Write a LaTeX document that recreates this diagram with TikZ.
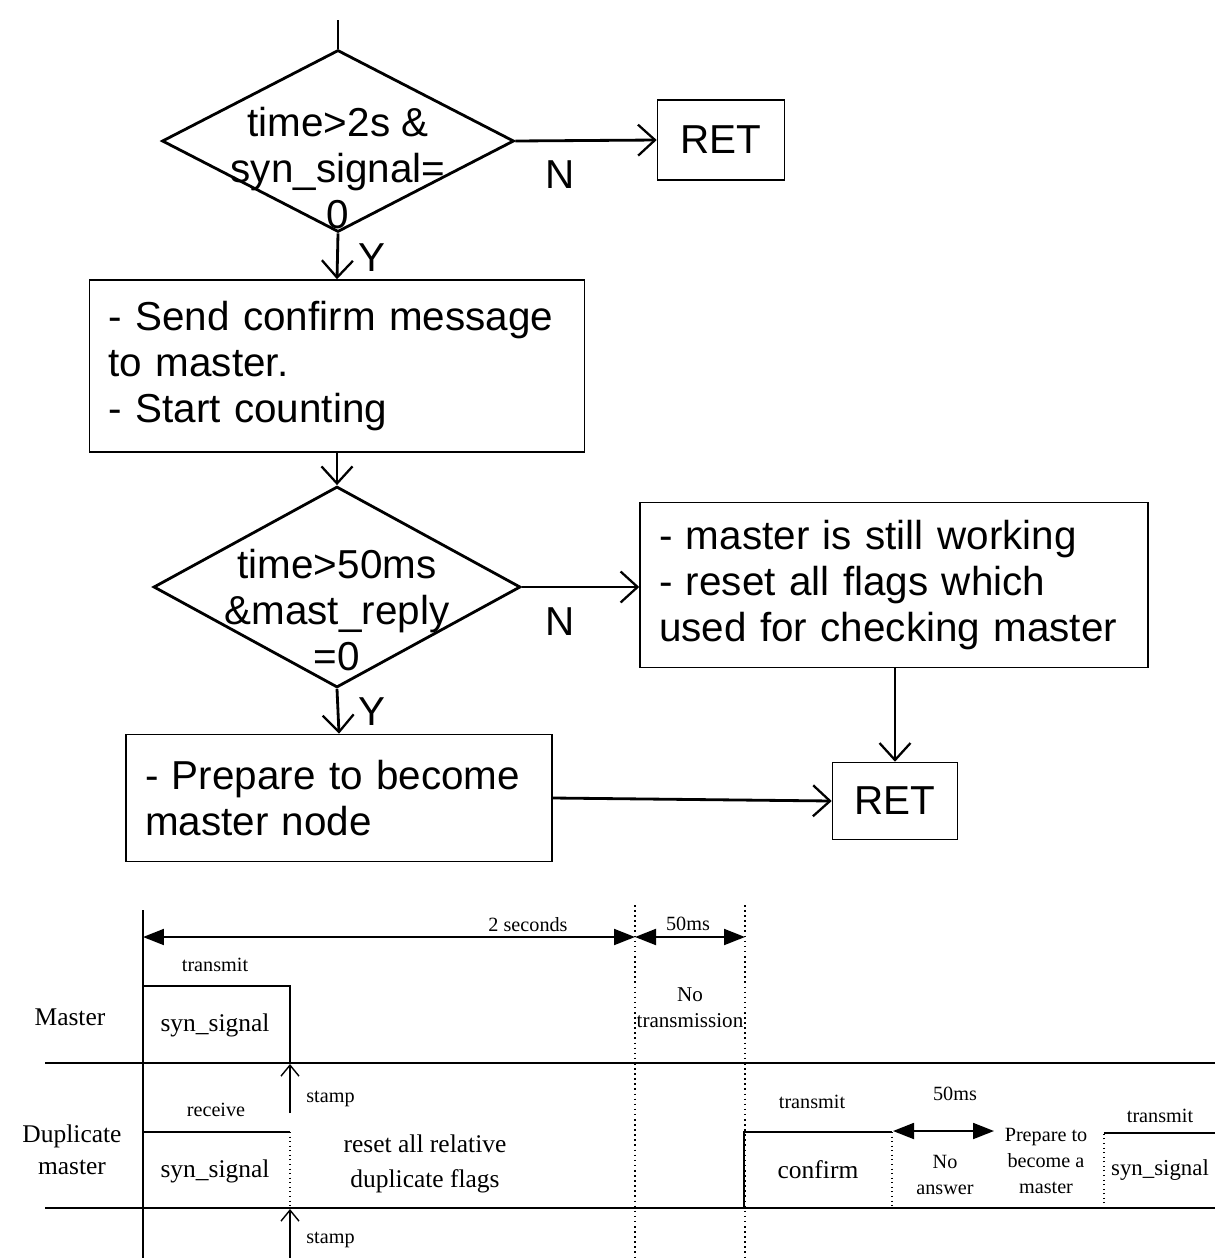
\documentclass[tikz,border=0pt]{standalone}
\usepackage{fontspec}
\setmainfont{Liberation Serif}
\newfontfamily\flowfont{Liberation Sans}
\usetikzlibrary{positioning, arrows.meta, shapes.geometric, calc}

\begin{document}
\begin{tikzpicture}[
    x=0.02cm, y=-0.02cm,
    box/.style={draw, line width=0.9pt, inner ysep=0pt, inner xsep=0.38cm, align=left, font=\flowfont\fontsize{23}{26}\selectfont},
    retbox/.style={draw, line width=0.9pt, inner sep=0pt, font=\flowfont\fontsize{23}{26}\selectfont},
    decision/.style={draw, diamond, line width=1.6pt, inner sep=0pt},
    dectext/.style={font=\flowfont\fontsize{23}{26}\selectfont, align=center, inner sep=0pt},
    yn/.style={font=\flowfont\fontsize{23}{26}\selectfont, inner sep=0pt},
    flow/.style={-{Straight Barb[length=0.34cm, width=0.62cm, line width=1.3pt]}, line width=1.6pt},
    lane/.style={line width=1.2pt},
    slot/.style={line width=0.6pt},
    gap/.style={line width=0.9pt, dotted},
    span/.style={{Triangle[length=0.42cm, width=0.32cm]}-{Triangle[length=0.42cm, width=0.32cm]}, line width=1.1pt},
    stampline/.style={-{Straight Barb[length=0.22cm, width=0.36cm]}, line width=0.8pt},
    big/.style={font=\fontsize{14.5}{18}\selectfont, align=center, inner sep=0pt},
    small/.style={font=\fontsize{11.5}{15}\selectfont, align=center, inner sep=0pt},
]
\useasboundingbox (0,0) rectangle (1215,1258);

% flow chart
\coordinate (entry) at (338,20);
\node[decision, minimum width=7.04cm, minimum height=3.64cm] (dec_sync) at (338,141) {};
\node[dectext] (dec_sync_t) at (338,168) {time>2s \&\\syn\_signal=\\0};
\node[retbox, minimum width=2.54cm, minimum height=1.6cm] (ret_a) at (721,140) {RET};
\node[box, minimum width=9.9cm, minimum height=3.44cm, text width=9.14cm] (send_box) at (337,366)
    {- Send confirm message\\to master.\\- Start counting};
\node[decision, minimum width=7.34cm, minimum height=4.02cm] (dec_reply) at (337,587) {};
\node[dectext] (dec_reply_t) at (337,610) {time>50ms\\\&mast\_reply\\=0};
\node[box, minimum width=10.16cm, minimum height=3.3cm, text width=9.4cm] (alive_box) at (894,585)
    {- master is still working\\- reset all flags which\\used for checking master};
\node[box, minimum width=8.52cm, minimum height=2.54cm, text width=7.76cm] (prep_box) at (339,798)
    {- Prepare to become\\master node};
\node[retbox, minimum width=2.5cm, minimum height=1.54cm] (ret_b) at (895,801) {RET};

\draw[line width=1.6pt] (entry) -- (dec_sync.north);
\draw[flow] (dec_sync.east) -- (ret_a.west);
\node[yn] (n_a) at (560,175) {N};
\draw[flow] (dec_sync.south) -- (send_box.north);
\node[yn] (y_a) at (372,258) {Y};
\draw[flow] (send_box.south) -- (dec_reply.north);
\draw[flow] (dec_reply.east) -- (dec_reply.east -| alive_box.west);
\node[yn] (n_b) at (560,622) {N};
\draw[flow] (dec_reply.south) -- (prep_box.north);
\node[yn] (y_b) at (372,712) {Y};
\draw[flow] (alive_box.south -| ret_b.north) -- (ret_b.north);
\draw[flow] (prep_box.east) -- (ret_b.west);

% timing chart
\coordinate (s0) at (143,937);
\coordinate (s1) at (635,937);
\coordinate (s2) at (745,937);
\coordinate (w0) at (893,1131);
\coordinate (w1) at (994,1131);
\coordinate (st_a) at (290,1113);
\coordinate (st_a_e) at (290,1064);
\coordinate (st_b) at (290,1258);
\coordinate (st_b_e) at (290,1209);

\draw[lane] (45,1063) -- (1215,1063);
\draw[lane] (45,1208) -- (1215,1208);
\draw[lane] (143,910) -- (143,1258);
\draw[gap] (635,905) -- (635,1258);
\draw[gap] (745,905) -- (745,1258);

\draw[span] (s0) -- (s1);
\draw[span] (s1) -- (s2);
\node[small] (sec_lbl) at (528,925) {2 seconds};
\node[small] (ms_lbl) at (688,924) {50ms};

\draw[slot] (143,986) -- (290,986) -- (290,1063);
\draw[slot] (143,1132) -- (290,1132);
\draw[slot, dotted] (290,1132) -- (290,1208);
\draw[slot] (744,1208) -- (744,1132) -- (892,1132);
\draw[slot, dotted] (892,1132) -- (892,1208);
\draw[slot, dotted] (1104,1208) -- (1104,1133);
\draw[slot] (1104,1133) -- (1215,1133);

\draw[stampline] (st_a) -- (st_a_e);
\draw[stampline] (st_b) -- (st_b_e);
\draw[span] (w0) -- (w1);

\node[big] (master_lbl) at (70,1017) {Master};
\node[big] (dup_lbl) at (72,1150) {Duplicate\\master};
\node[small] (tx_a) at (215,965) {transmit};
\node[big] (sig_a) at (215,1025) {syn\_signal};
\node[small, font=\fontsize{12}{15}\selectfont] (quiet) at (690,1008) {No\\transmission};
\node[small, anchor=west] (stamp_a) at (306,1099) {stamp};
\node[small] (rx_a) at (216,1110) {receive};
\node[big] (sig_b) at (215,1171) {syn\_signal};
\node[big, font=\fontsize{14.5}{20}\selectfont] (reset_lbl) at (425,1164) {reset all relative\\duplicate flags};
\node[small, anchor=west] (stamp_b) at (306,1240) {stamp};
\node[small] (tx_b) at (812,1102) {transmit};
\node[big] (conf_lbl) at (818,1170) {confirm};
\node[small] (ms_b) at (955,1094) {50ms};
\node[small] (noans) at (945,1175) {No\\answer};
\node[small] (becm) at (1046,1161) {Prepare to\\become a\\master};
\node[small] (tx_c) at (1160,1116) {transmit};
\node[small, font=\fontsize{13}{15}\selectfont] (sig_c) at (1160,1170) {syn\_signal};

\end{tikzpicture}
\end{document}
